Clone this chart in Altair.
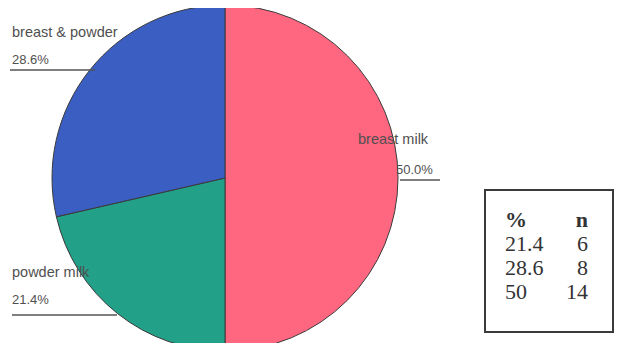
import altair as alt
import pandas as pd

# ---- data ----
categories = ["breast milk", "powder milk", "breast & powder"]
percents = [50.0, 21.4, 28.6]
counts = [14, 6, 8]
colors = ["#FF6680", "#22A088", "#3A5EC2"]

table_pct = ["21.4", "28.6", "50"]
table_n = ["6", "8", "14"]
table_header = ["%", "n"]

pie_df = pd.DataFrame({
    "category": categories,
    "percent": percents,
    "n": counts,
    "order": [0, 1, 2],
})

W, H = 606, 335
CX, CY, R = 217, 170, 173

base = alt.Chart(pie_df)

pie = base.mark_arc(stroke="#3a3a3a", strokeWidth=1, radius=R).encode(
    theta=alt.Theta("percent:Q", stack=True),
    order=alt.Order("order:Q"),
    color=alt.Color("category:N", scale=alt.Scale(domain=categories, range=colors), legend=None),
    x=alt.value(CX),
    y=alt.value(CY),
)

# labels: name, value and underline for each slice
label_df = pd.DataFrame({
    "category": categories,
    "pct": [f"{p:.1f}%" for p in percents],
})

def slice_label(idx, x, y_name, x_pct, y_pct, x_line1, x_line2, y_line):
    d = label_df.iloc[[idx]]
    name = alt.Chart(d).mark_text(
        align="left", baseline="middle", font="Liberation Sans", fontSize=14.5, color="#505050"
    ).encode(text="category:N", x=alt.value(x), y=alt.value(y_name))
    pct = alt.Chart(d).mark_text(
        align="left", baseline="middle", font="Liberation Sans", fontSize=13, color="#505050"
    ).encode(text="pct:N", x=alt.value(x_pct), y=alt.value(y_pct))
    line = alt.Chart(d).mark_rule(color="#555555", strokeWidth=1.5).encode(
        x=alt.value(x_line1), x2=alt.value(x_line2), y=alt.value(y_line)
    )
    return [line, name, pct]

labels = []
labels += slice_label(0, 350, 132, 388, 162, 392, 432, 172)
labels += slice_label(1, 4, 265, 4, 292, 4, 109, 307)
labels += slice_label(2, 4, 25, 4, 52, 2, 87, 62)

# table box
box = alt.Chart(pie_df.iloc[[0]]).mark_rect(
    fill="white", stroke="#3a3a3a", strokeWidth=2
).encode(x=alt.value(477), x2=alt.value(605), y=alt.value(182), y2=alt.value(324))

head_df = pd.DataFrame({"row": [0], "pct": [table_header[0]], "n": [table_header[1]]})
body_df = pd.DataFrame({"row": [1, 2, 3], "pct": table_pct, "n": table_n})
yscale = alt.Scale(domain=[0, 3], range=[212, 284])

def col(df, field, x, align, weight):
    return alt.Chart(df).mark_text(
        align=align, baseline="middle", font="Liberation Serif", fontSize=22,
        color="#333333", fontWeight=weight
    ).encode(
        x=alt.value(x),
        y=alt.Y("row:Q", scale=yscale, axis=None),
        text=f"{field}:N",
    )

table = [
    col(head_df, "pct", 497, "left", "bold"),
    col(head_df, "n", 580, "right", "bold"),
    col(body_df, "pct", 497, "left", "normal"),
    col(body_df, "n", 580, "right", "normal"),
]

chart = alt.layer(pie, *labels, box, *table).properties(
    width=W, height=H, padding=0, autosize=alt.AutoSizeParams(type="none"), background="white"
).configure_view(stroke=None)

chart.save("out.html", embed_options={"renderer": "svg", "actions": False})
